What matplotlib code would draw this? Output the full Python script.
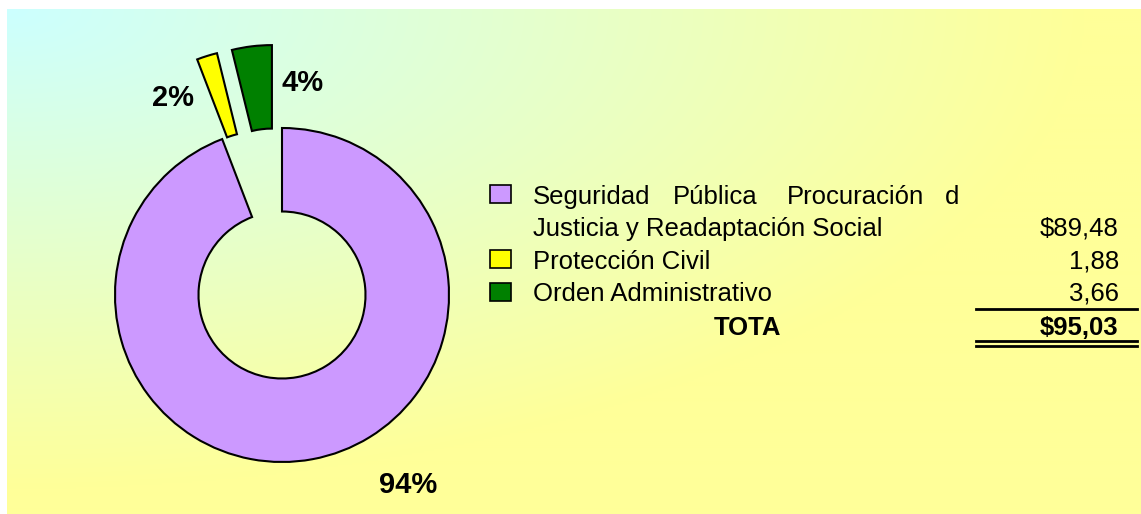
import numpy as np
import matplotlib
matplotlib.use("Agg")
import matplotlib.pyplot as plt
from matplotlib.patches import Rectangle
from matplotlib.lines import Line2D

# ---------------- data ----------------
categories_line1 = ["Seguridad", "Pública", "Procuración", "d"]
category_line2 = "Justicia y Readaptación Social"
categories = ["Seguridad Pública Procuración d Justicia y Readaptación Social",
              "Protección Civil", "Orden Administrativo"]
values = [89.48, 1.88, 3.66]
value_labels = ["$89,48", "1,88", "3,66"]
total_label = "TOTA"
total_value = "$95,03"
colors = ["#CC99FF", "#FFFF00", "#008000"]
explode = [0.0, 0.5, 0.5]

W, H = 1141, 514
fig = plt.figure(figsize=(W / 100, H / 100), dpi=100)
plt.rcParams['font.family'] = ['Liberation Sans', 'DejaVu Sans']

# ---------------- background gradient ----------------
bx0, by0 = 7, 9
axbg = fig.add_axes([bx0 / W, 0, 1 - bx0 / W, (H - by0) / H])
gw, gh = W - bx0, H - by0
xx, yy = np.meshgrid(np.linspace(0, 1, gw // 2), np.linspace(0, 1, gh // 2))
t = np.clip(np.sqrt(xx ** 2 + yy ** 2) / 0.95, 0, 1)
c0 = np.array([0.80, 1.0, 1.0])
c1 = np.array([1.0, 1.0, 0.60])
img = c0[None, None, :] * (1 - t[..., None]) + c1[None, None, :] * t[..., None]
axbg.imshow(img, aspect='auto', interpolation='bilinear')
axbg.set_axis_off()

# ---------------- donut ----------------
R = 167.0
ax = fig.add_axes([0, 0, 1, 1])
ax.patch.set_visible(False)
cx, cy = 282, 295
ax.pie(values, colors=colors, startangle=90, counterclock=False, radius=1.0,
       center=(cx / R, (H - cy) / R), explode=explode, frame=True,
       wedgeprops=dict(width=0.5, edgecolor='black', linewidth=1.5))
ax.set_xlim(0, W / R)
ax.set_ylim(0, H / R)
ax.set_aspect('auto')
ax.set_axis_off()

def fx(x):
    return x / W

def fy(y):
    return 1 - y / H

tot = sum(values)
pcts = [f"{v / tot * 100:.0f}%" for v in values]
pct_pos = [(408, 493), (173, 106), (303, 91)]
for p, (px, py) in zip(pcts, pct_pos):
    fig.text(fx(px), fy(py), p, ha='center', va='baseline', fontsize=21,
             fontweight='bold', color='black')

# ---------------- legend / table ----------------
fs = 18.5
word_x = [533, 673, 787, 945]
for w, x in zip(categories_line1, word_x):
    fig.text(fx(x), fy(204), w, ha='left', va='baseline', fontsize=fs)
fig.text(fx(533), fy(236), category_line2, ha='left', va='baseline', fontsize=fs)
fig.text(fx(533), fy(269), categories[1], ha='left', va='baseline', fontsize=fs)
fig.text(fx(533), fy(301), categories[2], ha='left', va='baseline', fontsize=fs)

sq_tops = [185, 250, 283]
for c, top in zip(colors, sq_tops):
    fig.add_artist(Rectangle((fx(490), fy(top + 18)), 21 / W, 18 / H,
                             transform=fig.transFigure, facecolor=c,
                             edgecolor='black', linewidth=1.2))

val_base = [236, 269, 301]
for v, b in zip(value_labels, val_base):
    fig.text(fx(1119), fy(b), v, ha='right', va='baseline', fontsize=fs)

fig.text(fx(747), fy(335), total_label, ha='center', va='baseline', fontsize=fs,
         fontweight='bold')
fig.text(fx(1118), fy(335), total_value, ha='right', va='baseline', fontsize=fs,
         fontweight='bold')

for ly in [309, 341, 346]:
    fig.add_artist(Line2D([fx(976), fx(1137)], [fy(ly), fy(ly)],
                          transform=fig.transFigure, color='black', linewidth=2))

fig.savefig("out.png", dpi=100)
